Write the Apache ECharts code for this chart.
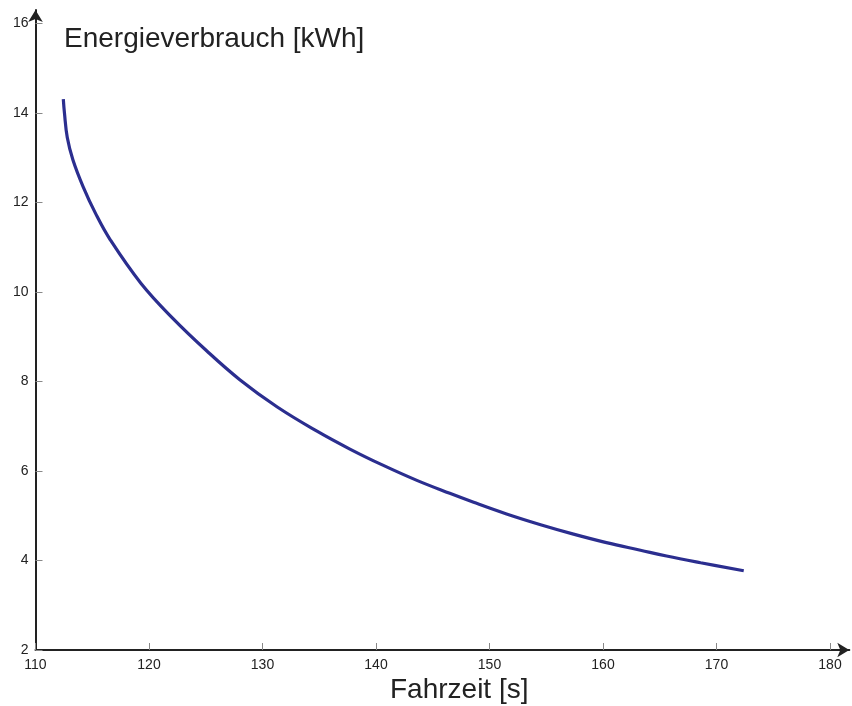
<!DOCTYPE html>
<html>
<head>
<meta charset="utf-8">
<script src="https://cdn.jsdelivr.net/npm/echarts@6/dist/echarts.min.js"></script>
<style>
html,body{margin:0;padding:0;background:#fff;}
#main{width:852px;height:706px;}
</style>
</head>
<body>
<div id="main"></div>
<script>
const fahrzeit = [112.45, 112.55, 112.8, 113.3, 114.2, 115.3, 116.6, 119.3, 122.1, 125.1, 128.0, 131.3, 134.8, 137.7, 140.6, 143.6, 146.5, 148.6, 151.5, 154.5, 157.4, 160.3, 163.3, 165.6, 168.6, 172.4];
const energie  = [14.31, 14.00, 13.45, 12.95, 12.35, 11.75, 11.16, 10.19, 9.41, 8.68, 8.04, 7.43, 6.89, 6.49, 6.13, 5.79, 5.50, 5.30, 5.04, 4.80, 4.59, 4.40, 4.23, 4.10, 3.95, 3.77];
const xTitle = 'Fahrzeit [s]';
const yTitle = 'Energieverbrauch [kWh]';

const chart = echarts.init(document.getElementById('main'));
const font = 'Liberation Sans, Arial, sans-serif';
chart.setOption({
  animation: false,
  grid: {left: 35.5, top: 10, width: 813.8, height: 640},
  xAxis: {
    type: 'value', min: 110, max: 181.7, interval: 10,
    axisLine: {lineStyle: {color: '#222', width: 2}, symbol: ['none', 'arrow'], symbolSize: [11, 12]},
    axisTick: {inside: true, length: 7, lineStyle: {color: '#888', width: 1}},
    axisLabel: {margin: 8, fontSize: 14, color: '#222', fontFamily: font, showMaxLabel: false},
    splitLine: {show: false}
  },
  yAxis: {
    type: 'value', min: 2, max: 16.3, interval: 2,
    axisLine: {lineStyle: {color: '#222', width: 2}, symbol: ['none', 'arrow'], symbolSize: [11, 12]},
    axisTick: {inside: true, length: 7, lineStyle: {color: '#888', width: 1}},
    axisLabel: {margin: 7, fontSize: 14, color: '#222', fontFamily: font, showMaxLabel: false},
    splitLine: {show: false}
  },
  graphic: [
    {type: 'text', left: 64, top: 25, style: {text: yTitle, fontSize: 28, fill: '#222', fontFamily: font}},
    {type: 'text', left: 390, top: 676, style: {text: xTitle, fontSize: 28, fill: '#222', fontFamily: font}}
  ],
  series: [{
    type: 'line',
    data: fahrzeit.map((x, i) => [x, energie[i]]),
    smooth: 0.4,
    showSymbol: false,
    lineStyle: {color: '#2B2E8F', width: 3.2}
  }]
});
</script>
</body>
</html>
